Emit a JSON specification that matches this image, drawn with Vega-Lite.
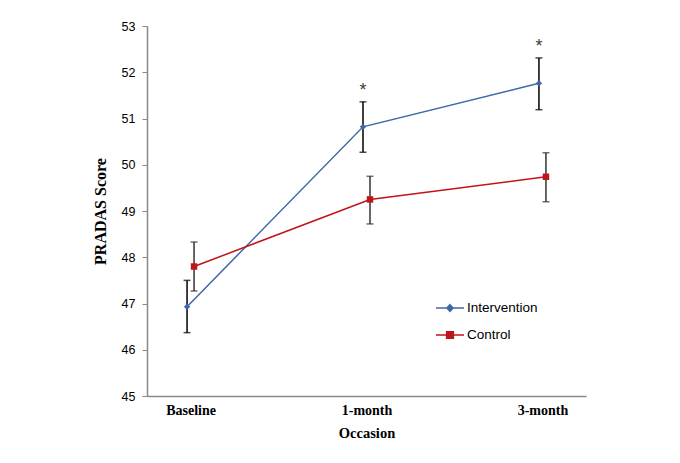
{
  "$schema": "https://vega.github.io/schema/vega-lite/v6.json",
  "autosize": "none",
  "width": 439,
  "height": 370,
  "padding": {"left": 147, "top": 26, "right": 94, "bottom": 67},
  "background": "white",
  "config": {
    "view": {"stroke": null},
    "axis": {"grid": false}
  },
  "data": {
    "values": [
      {"occasion": "Baseline", "group": "Intervention", "mean": 46.93, "lower": 46.37, "upper": 47.50, "sig": ""},
      {"occasion": "1-month", "group": "Intervention", "mean": 50.82, "lower": 50.27, "upper": 51.36, "sig": "*"},
      {"occasion": "3-month", "group": "Intervention", "mean": 51.76, "lower": 51.19, "upper": 52.31, "sig": "*"},
      {"occasion": "Baseline", "group": "Control", "mean": 47.80, "lower": 47.27, "upper": 48.33, "sig": ""},
      {"occasion": "1-month", "group": "Control", "mean": 49.25, "lower": 48.72, "upper": 49.75, "sig": ""},
      {"occasion": "3-month", "group": "Control", "mean": 49.74, "lower": 49.20, "upper": 50.26, "sig": ""}
    ]
  },
  "encoding": {
    "x": {
      "field": "occasion", "type": "ordinal", "sort": ["Baseline", "1-month", "3-month"],
      "scale": {"type": "point", "padding": 0.2475},
      "axis": {
        "title": "Occasion", "labelAngle": 0, "ticks": false,
        "domainColor": "#888888", "domainWidth": 1.5,
        "labelFont": "Liberation Serif", "labelFontWeight": "bold", "labelFontSize": 14, "labelColor": "black", "labelPadding": 7,
        "titleFont": "Liberation Serif", "titleFontWeight": "bold", "titleFontSize": 14.5, "titleColor": "black", "titlePadding": 9
      }
    }
  },
  "layer": [
    {
      "transform": [{"filter": "datum.group === 'Intervention'"}],
      "mark": {"type": "rule", "xOffset": -3.5, "color": "black", "strokeWidth": 1.5},
      "encoding": {
        "y": {
          "field": "lower", "type": "quantitative", "title": "PRADAS Score",
          "scale": {"domain": [45, 53], "nice": false, "zero": false},
          "axis": {
            "values": [45, 46, 47, 48, 49, 50, 51, 52, 53], "tickSize": 5, "labelPadding": 7,
            "domainColor": "#888888", "domainWidth": 1.5, "tickColor": "#888888",
            "labelFont": "Liberation Sans", "labelFontSize": 12.5, "labelColor": "black",
            "titleFont": "Liberation Serif", "titleFontWeight": "bold", "titleFontSize": 16, "titleColor": "black", "titlePadding": 13
          }
        },
        "y2": {"field": "upper"}
      }
    },
    {
      "transform": [{"filter": "datum.group === 'Control'"}],
      "mark": {"type": "rule", "xOffset": 3.5, "color": "#333333", "strokeWidth": 1.5},
      "encoding": {"y": {"field": "lower", "type": "quantitative", "title": "PRADAS Score"}, "y2": {"field": "upper"}}
    },
    {
      "transform": [{"filter": "datum.group === 'Intervention'"}],
      "mark": {"type": "tick", "xOffset": -3.5, "color": "black", "size": 7, "thickness": 1.5, "orient": "horizontal"},
      "encoding": {"y": {"field": "lower", "type": "quantitative", "title": "PRADAS Score"}}
    },
    {
      "transform": [{"filter": "datum.group === 'Intervention'"}],
      "mark": {"type": "tick", "xOffset": -3.5, "color": "black", "size": 7, "thickness": 1.5, "orient": "horizontal"},
      "encoding": {"y": {"field": "upper", "type": "quantitative", "title": "PRADAS Score"}}
    },
    {
      "transform": [{"filter": "datum.group === 'Control'"}],
      "mark": {"type": "tick", "xOffset": 3.5, "color": "#333333", "size": 7, "thickness": 1.5, "orient": "horizontal"},
      "encoding": {"y": {"field": "lower", "type": "quantitative", "title": "PRADAS Score"}}
    },
    {
      "transform": [{"filter": "datum.group === 'Control'"}],
      "mark": {"type": "tick", "xOffset": 3.5, "color": "#333333", "size": 7, "thickness": 1.5, "orient": "horizontal"},
      "encoding": {"y": {"field": "upper", "type": "quantitative", "title": "PRADAS Score"}}
    },
    {
      "transform": [{"filter": "datum.group === 'Intervention'"}],
      "mark": {"type": "line", "xOffset": -3.5, "strokeWidth": 1.5, "color": "#3F67A8", "point": {"shape": "diamond", "size": 40, "filled": true, "xOffset": -3.5, "color": "#3F67A8"}},
      "encoding": {
        "y": {"field": "mean", "type": "quantitative", "title": "PRADAS Score"}
      }
    },
    {
      "transform": [{"filter": "datum.group === 'Control'"}],
      "mark": {"type": "line", "xOffset": 3.5, "strokeWidth": 1.5, "color": "#C0141B", "point": {"shape": "square", "size": 42, "filled": true, "xOffset": 3.5, "color": "#C0141B"}},
      "encoding": {
        "y": {"field": "mean", "type": "quantitative", "title": "PRADAS Score"}
      }
    },
    {
      "transform": [{"filter": "datum.sig !== ''"}],
      "mark": {"type": "text", "xOffset": -3.5, "dy": -11, "font": "Liberation Sans", "fontSize": 18, "color": "#404040", "baseline": "middle"},
      "encoding": {
        "y": {"field": "upper", "type": "quantitative", "title": "PRADAS Score"},
        "text": {"field": "sig"}
      }
    },
    {
      "mark": {"type": "point", "filled": true, "opacity": 0},
      "encoding": {
        "y": {"field": "mean", "type": "quantitative", "title": "PRADAS Score"},
        "color": {
          "field": "group", "type": "nominal",
          "scale": {"domain": ["Intervention", "Control"], "range": ["#3F67A8", "#C0141B"]},
          "legend": {
            "title": null, "orient": "none", "legendX": 288, "legendY": 267, "padding": 0,
            "symbolSize": 784, "symbolOpacity": 1, "symbolStrokeWidth": 1.5, "rowPadding": 5,
            "labelFont": "Liberation Sans", "labelFontSize": 13.5, "labelColor": "black", "labelOffset": 2,
            "encode": {"symbols": {"update": {"stroke": {"scale": "color", "field": "value"}, "opacity": {"value": 1}}}}
          }
        },
        "shape": {
          "field": "group", "type": "nominal",
          "scale": {"domain": ["Intervention", "Control"], "range": ["M-1,0L1,0M0,-0.24L0.22,0L0,0.24L-0.22,0Z", "M-1,0L1,0M-0.24,-0.24L0.24,-0.24L0.24,0.24L-0.24,0.24Z"]},
          "legend": {
            "title": null, "orient": "none", "legendX": 288, "legendY": 267, "padding": 0,
            "symbolSize": 784, "symbolOpacity": 1, "symbolStrokeWidth": 1.5, "rowPadding": 5,
            "labelFont": "Liberation Sans", "labelFontSize": 13.5, "labelColor": "black", "labelOffset": 2,
            "encode": {"symbols": {"update": {"stroke": {"scale": "color", "field": "value"}, "opacity": {"value": 1}}}}
          }
        }
      }
    }
  ]
}
